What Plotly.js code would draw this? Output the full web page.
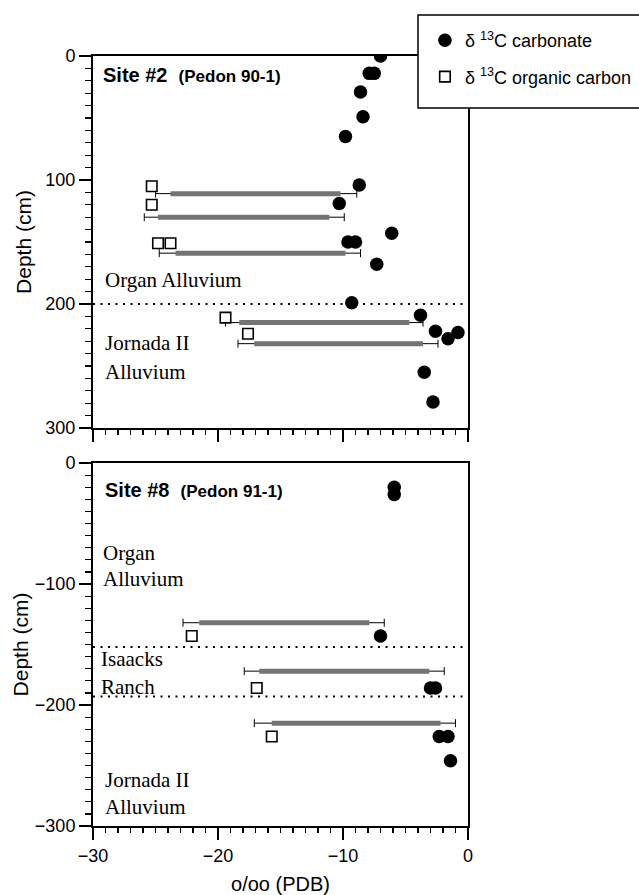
<!DOCTYPE html>
<html>
<head>
<meta charset="utf-8">
<script src="https://cdn.plot.ly/plotly-3.0.1.min.js"></script>
<style>html,body{margin:0;padding:0;background:#fff;}#chart{width:639px;height:895px;}</style>
</head>
<body>
<div id="chart"></div>
<script>
// ---- Site #2 (Pedon 90-1) ----
const carb2X = [-7.0, -7.9, -7.5, -8.6, -8.4, -9.8, -8.7, -10.3, -9.6, -9.0, -6.1, -7.3, -9.3, -3.8, -2.6, -1.6, -0.8, -3.5, -2.8];
const carb2D = [0, 14, 14, 29, 49, 65, 104, 119, 150, 150, 143, 168, 199, 209, 222, 228, 223, 255, 279];
const org2X = [-25.3, -25.3, -24.8, -23.8, -19.4, -17.6];
const org2D = [105, 120, 151, 151, 211, 224];
const bar2D = [111, 130, 159, 215, 232];
const bar2Lo = [-23.8, -24.8, -23.4, -18.3, -17.1];
const bar2Hi = [-10.2, -11.1, -9.8, -4.7, -3.6];
const whisk2Lo = [-25.0, -25.9, -24.7, -19.4, -18.4];
const whisk2Hi = [-8.9, -9.9, -8.6, -3.6, -2.4];
const bound2 = [200];

// ---- Site #8 (Pedon 91-1) ----
const carb8X = [-5.9, -5.9, -7.0, -3.0, -2.6, -2.3, -1.6, -1.4];
const carb8D = [-20, -26, -143, -186, -186, -226, -226, -246];
const org8X = [-22.1, -16.9, -15.7];
const org8D = [-143, -186, -226];
const bar8D = [-132, -172, -215];
const bar8Lo = [-21.5, -16.7, -15.7];
const bar8Hi = [-7.9, -3.1, -2.2];
const whisk8Lo = [-22.8, -17.9, -17.1];
const whisk8Hi = [-6.7, -1.9, -1.0];
const bound8 = [-152, -193];

const SANS = 'Liberation Sans, Arial, sans-serif';
const SERIF = 'Liberation Serif, Times New Roman, serif';

function whiskTrace(lo, hi, d, xa, ya) {
  const c = lo.map((v, i) => (v + hi[i]) / 2);
  return {
    type: 'scatter', mode: 'markers', x: c, y: d, xaxis: xa, yaxis: ya,
    marker: {size: 1, color: 'rgba(0,0,0,0)'}, showlegend: false, hoverinfo: 'skip',
    error_x: {type: 'data', symmetric: false,
      array: hi.map((v, i) => v - c[i]), arrayminus: lo.map((v, i) => c[i] - v),
      color: 'black', thickness: 1, width: 4}
  };
}
function barTrace(lo, hi, d, xa, ya) {
  const x = [], y = [];
  lo.forEach((v, i) => { x.push(v, hi[i], null); y.push(d[i], d[i], null); });
  return {type: 'scatter', mode: 'lines', x: x, y: y, xaxis: xa, yaxis: ya,
    line: {color: '#747474', width: 5}, showlegend: false, hoverinfo: 'skip', connectgaps: false};
}
const circ = {symbol: 'circle', size: 13.5, color: 'black', line: {width: 0}};
const sq = {symbol: 'square', size: 10.5, color: 'white', line: {color: 'black', width: 1.6}};

const traces = [
  whiskTrace(whisk2Lo, whisk2Hi, bar2D, 'x2', 'y'),
  barTrace(bar2Lo, bar2Hi, bar2D, 'x2', 'y'),
  whiskTrace(whisk8Lo, whisk8Hi, bar8D, 'x', 'y2'),
  barTrace(bar8Lo, bar8Hi, bar8D, 'x', 'y2'),
  {type: 'scatter', mode: 'markers', x: carb2X, y: carb2D, xaxis: 'x2', yaxis: 'y', marker: circ,
   name: 'δ <sup>13</sup>C carbonate', legendgroup: 'c', showlegend: true},
  {type: 'scatter', mode: 'markers', x: carb8X, y: carb8D, xaxis: 'x', yaxis: 'y2', marker: circ,
   legendgroup: 'c', showlegend: false},
  {type: 'scatter', mode: 'markers', x: org2X, y: org2D, xaxis: 'x2', yaxis: 'y', marker: sq,
   name: 'δ <sup>13</sup>C organic carbon', legendgroup: 'o', showlegend: true},
  {type: 'scatter', mode: 'markers', x: org8X, y: org8D, xaxis: 'x', yaxis: 'y2', marker: sq,
   legendgroup: 'o', showlegend: false}
];

const axisCommon = {
  showline: true, linecolor: 'black', linewidth: 2, mirror: true,
  ticks: 'outside', ticklen: 12, tickwidth: 1.5, tickcolor: 'black',
  showgrid: false, zeroline: false, fixedrange: true,
  tickfont: {family: SANS, size: 18, color: 'black'}
};

const shapes = [];
bound2.forEach(b => shapes.push({type: 'line', xref: 'x2 domain', yref: 'y', x0: 0, x1: 1, y0: b, y1: b,
  line: {color: 'black', width: 2, dash: '2px,5.5px'}}));
bound8.forEach(b => shapes.push({type: 'line', xref: 'x domain', yref: 'y2', x0: 0, x1: 1, y0: b, y1: b,
  line: {color: 'black', width: 2, dash: '2px,5.5px'}}));
// legend frame (extends past the right edge of the page, as in the original)
shapes.push({type: 'rect', xref: 'paper', yref: 'paper', x0: 0.8667, x1: 1.5, y0: 0.9325, y1: 1.0532,
  layer: 'above', fillcolor: 'white', line: {color: 'black', width: 1.5}});

function ann(text, xr, yr, x, y, font) {
  return {text: text, xref: xr, yref: yr, x: x, y: y, xanchor: 'left', yanchor: 'middle',
    showarrow: false, font: font};
}
const serifF = {family: SERIF, size: 21, color: 'black'};
const siteF = {family: SANS, size: 20, color: 'black'};
const annotations = [
  ann('<b>Site #2&nbsp;&nbsp;<span style="font-size:17px">(Pedon 90-1)</span></b>', 'x2 domain', 'y domain', 0.021, 0.948, siteF),
  ann('Organ Alluvium', 'x2 domain', 'y domain', 0.027, 0.398, serifF),
  ann('Jornada II', 'x2 domain', 'y domain', 0.027, 0.228, serifF),
  ann('Alluvium', 'x2 domain', 'y domain', 0.027, 0.151, serifF),
  ann('<b>Site #8&nbsp;&nbsp;<span style="font-size:17px">(Pedon 91-1)</span></b>', 'x domain', 'y2 domain', 0.027, 0.925, siteF),
  ann('Organ', 'x domain', 'y2 domain', 0.021, 0.753, serifF),
  ann('Alluvium', 'x domain', 'y2 domain', 0.021, 0.680, serifF),
  ann('Isaacks', 'x domain', 'y2 domain', 0.017, 0.459, serifF),
  ann('Ranch', 'x domain', 'y2 domain', 0.017, 0.384, serifF),
  ann('Jornada II', 'x domain', 'y2 domain', 0.026, 0.127, serifF),
  ann('Alluvium', 'x domain', 'y2 domain', 0.026, 0.052, serifF)
];

const layout = {
  width: 639, height: 895,
  margin: {l: 93, r: 171, t: 56, b: 69, pad: 0, autoexpand: false},
  paper_bgcolor: 'white', plot_bgcolor: 'white',
  font: {family: SANS, color: 'black'},
  showlegend: true,
  legend: {xref: 'container', yref: 'container', x: 0.665, y: 0.9754, xanchor: 'left', yanchor: 'top',
    bgcolor: 'rgba(0,0,0,0)', borderwidth: 0,
    font: {family: SANS, size: 18, color: 'black'}, tracegroupgap: 10,
    traceorder: 'grouped'},
  xaxis: Object.assign({}, axisCommon, {
    domain: [0, 1], anchor: 'y2', range: [-30, 0], dtick: 10, tick0: 0,
    minor: {ticks: 'outside', ticklen: 5, dtick: 1, tickwidth: 1.2, tickcolor: 'black', showgrid: false},
    title: {text: 'o/oo (PDB)', font: {family: SANS, size: 20, color: 'black'}, standoff: 12}
  }),
  xaxis2: Object.assign({}, axisCommon, {
    domain: [0, 1], anchor: 'y', range: [-30, 0], dtick: 10, tick0: 0, showticklabels: false,
    minor: {ticks: 'outside', ticklen: 5, dtick: 1, tickwidth: 1.2, tickcolor: 'black', showgrid: false}
  }),
  yaxis: Object.assign({}, axisCommon, {
    domain: [0.5169, 1], anchor: 'x2', range: [300, 0], dtick: 100, tick0: 0,
    minor: {ticks: 'outside', ticklen: 6, dtick: 10, tickwidth: 1.2, tickcolor: 'black', showgrid: false},
    title: {text: 'Depth (cm)', font: {family: SANS, size: 21, color: 'black'}, standoff: 8}
  }),
  yaxis2: Object.assign({}, axisCommon, {
    domain: [0, 0.4714], anchor: 'x', range: [-300, 0], dtick: 100, tick0: 0,
    minor: {ticks: 'outside', ticklen: 6, dtick: 10, tickwidth: 1.2, tickcolor: 'black', showgrid: false},
    title: {text: 'Depth (cm)', font: {family: SANS, size: 21, color: 'black'}, standoff: 0}
  }),
  shapes: shapes,
  annotations: annotations
};

Plotly.newPlot('chart', traces, layout, {displayModeBar: false, staticPlot: true});
</script>
</body>
</html>
